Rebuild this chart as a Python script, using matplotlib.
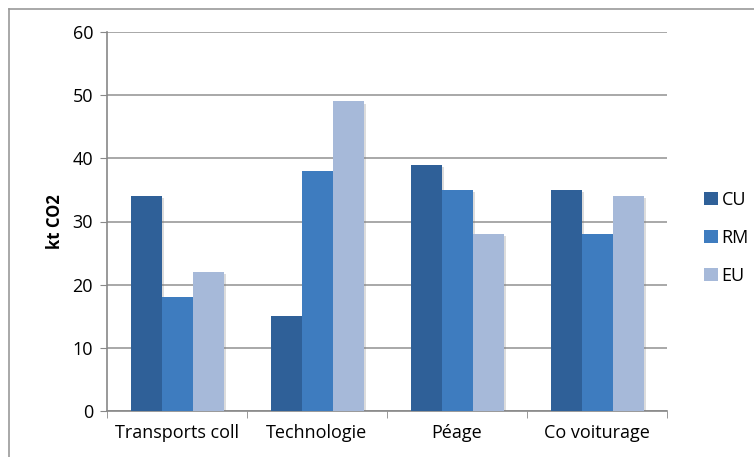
import matplotlib
matplotlib.use("Agg")
import matplotlib.pyplot as plt
import matplotlib.patheffects as pe
from matplotlib.lines import Line2D
from matplotlib.patches import Patch
import numpy as np

# --- data ---
categories = ["Transports coll", "Technologie", "Péage", "Co voiturage"]
series_names = ["CU", "RM", "EU"]
cu = [34, 15, 39, 35]
rm = [18, 38, 35, 28]
eu = [22, 49, 28, 34]

COLORS = ["#2F6098", "#3E7CBF", "#A6B9D9"]

plt.rcParams["font.family"] = ["Open Sans", "DejaVu Sans"]

fig = plt.figure(figsize=(7.54, 4.57), dpi=100)
W, H = 754, 457
ax = fig.add_axes([107 / W, 1 - 411 / H, 560 / W, (411 - 32) / H])

x = np.arange(len(categories))
bw = 31 / 140
shadow = [pe.SimplePatchShadow(offset=(2, -1.5), shadow_rgbFace="#777777", alpha=0.25), pe.Normal()]
for i, vals in enumerate([cu, rm, eu]):
    bars = ax.bar(x + (i - 1) * bw, vals, bw, color=COLORS[i], zorder=3)
    for b in bars:
        b.set_path_effects(shadow)

ax.set_xlim(-0.5, len(categories) - 0.5)
ax.set_ylim(0, 60)
ax.set_yticks(range(0, 61, 10))
ax.set_xticks(x)
ax.set_xticklabels(categories, fontsize=13)
ax.set_xticks(np.arange(-0.5, len(categories)), minor=True)
ax.tick_params(axis="x", which="major", length=0, pad=9)
ax.tick_params(axis="x", which="minor", length=5, color="#888888", direction="out")
ax.tick_params(axis="y", labelsize=13, length=5, color="#888888", pad=5)
ax.grid(axis="y", color="#999999", linewidth=1.2, zorder=0)
ax.set_axisbelow(True)
for s in ["top", "right"]:
    ax.spines[s].set_visible(False)
for s in ["left", "bottom"]:
    ax.spines[s].set_color("#888888")
    ax.spines[s].set_linewidth(1.2)
ax.set_ylabel("kt CO2", fontsize=12, fontweight="bold", labelpad=6)

handles = [Patch(facecolor=c, label=n) for c, n in zip(COLORS, series_names)]
ax.legend(handles=handles, loc="center left", bbox_to_anchor=(688 / W, 1 - 238 / H),
          bbox_transform=fig.transFigure, frameon=False, fontsize=13,
          handlelength=0.75, handleheight=0.75, handletextpad=0.2, labelspacing=1.1)

# chart border
fig.add_artist(Line2D([9 / W, 1.0], [1 - 9 / H, 1 - 9 / H], transform=fig.transFigure, color="#999999", lw=1.2))
fig.add_artist(Line2D([9 / W, 9 / W], [1 - 9 / H, 0.0], transform=fig.transFigure, color="#999999", lw=1.2))

fig.savefig("out.png", dpi=100)
